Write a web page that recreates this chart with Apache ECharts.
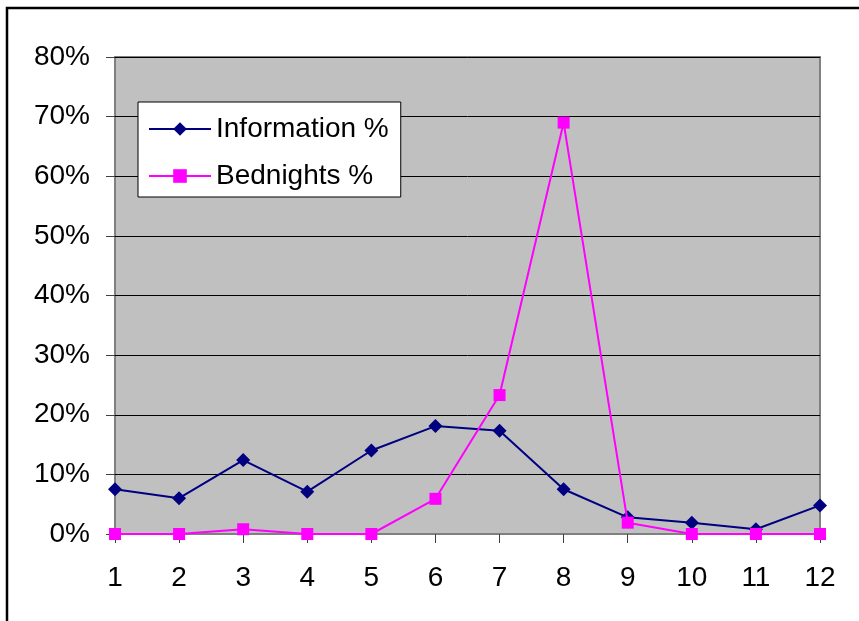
<!DOCTYPE html>
<html>
<head>
<meta charset="utf-8">
<script src="https://cdn.jsdelivr.net/npm/echarts@6/dist/echarts.min.js"></script>
<style>
  html, body { margin: 0; padding: 0; background: #ffffff; }
  #chart { width: 859px; height: 621px; }
</style>
</head>
<body>
<div id="chart"></div>
<script>
// Months / periods along the horizontal axis
const categories = ['1', '2', '3', '4', '5', '6', '7', '8', '9', '10', '11', '12'];

// Share of information requests per period (%)
const informationPct = [7.5, 6.0, 12.4, 7.1, 14.0, 18.1, 17.3, 7.5, 2.8, 1.9, 0.8, 4.8];

// Share of bednights per period (%)
const bednightsPct = [0, 0, 0.8, 0, 0, 5.9, 23.3, 69.0, 1.9, 0, 0, 0];

// Value axis range and step (%)
const yMin = 0;
const yMax = 80;
const yStep = 10;

const FONT = '"Liberation Sans", Arial, sans-serif';

const chart = echarts.init(document.getElementById('chart'), null, { renderer: 'canvas' });

chart.setOption({
  backgroundColor: '#ffffff',
  animation: false,
  textStyle: { fontFamily: FONT, color: '#000000' },
  graphic: [
    {
      type: 'rect',
      silent: true,
      shape: { x: 7, y: 8, width: 1000, height: 1000 },
      style: { fill: 'none', stroke: '#000000', lineWidth: 2.5 },
      z: 100
    }
  ],
  grid: {
    left: 115,
    top: 57,
    right: 39,
    bottom: 87,
    containLabel: false,
    show: true,
    backgroundColor: '#C0C0C0',
    borderColor: '#808080',
    borderWidth: 2
  },
  legend: {
    orient: 'vertical',
    left: 138,
    top: 102,
    padding: [13, 12, 7, 10],
    itemGap: 19,
    itemWidth: 62,
    itemHeight: 17,
    backgroundColor: '#ffffff',
    borderColor: '#000000',
    borderWidth: 1,
    textStyle: { fontFamily: FONT, fontSize: 28, color: '#000000' },
    data: ['Information %', 'Bednights %']
  },
  xAxis: {
    type: 'category',
    data: categories,
    boundaryGap: false,
    axisLine: { show: true, lineStyle: { color: '#808080', width: 2 } },
    axisTick: { show: true, length: 9, interval: 0, lineStyle: { color: '#404040', width: 1 } },
    axisLabel: { interval: 0, margin: 30, fontSize: 28, color: '#000000', fontFamily: FONT },
    splitLine: { show: false }
  },
  yAxis: {
    type: 'value',
    min: yMin,
    max: yMax,
    interval: yStep,
    axisLine: { show: false },
    axisTick: { show: true, length: 9, lineStyle: { color: '#404040', width: 1 } },
    axisLabel: { formatter: '{value}%', margin: 25, fontSize: 28, color: '#000000', fontFamily: FONT },
    splitLine: { show: true, lineStyle: { color: '#000000', width: 1 } }
  },
  series: [
    {
      name: 'Information %',
      type: 'line',
      data: informationPct,
      symbol: 'diamond',
      symbolSize: 14,
      showAllSymbol: true,
      lineStyle: { color: '#000080', width: 2 },
      itemStyle: { color: '#000080' },
      z: 3
    },
    {
      name: 'Bednights %',
      type: 'line',
      data: bednightsPct,
      symbol: 'rect',
      symbolSize: 12,
      showAllSymbol: true,
      lineStyle: { color: '#FF00FF', width: 2 },
      itemStyle: { color: '#FF00FF' },
      z: 4
    }
  ]
});
</script>
</body>
</html>
